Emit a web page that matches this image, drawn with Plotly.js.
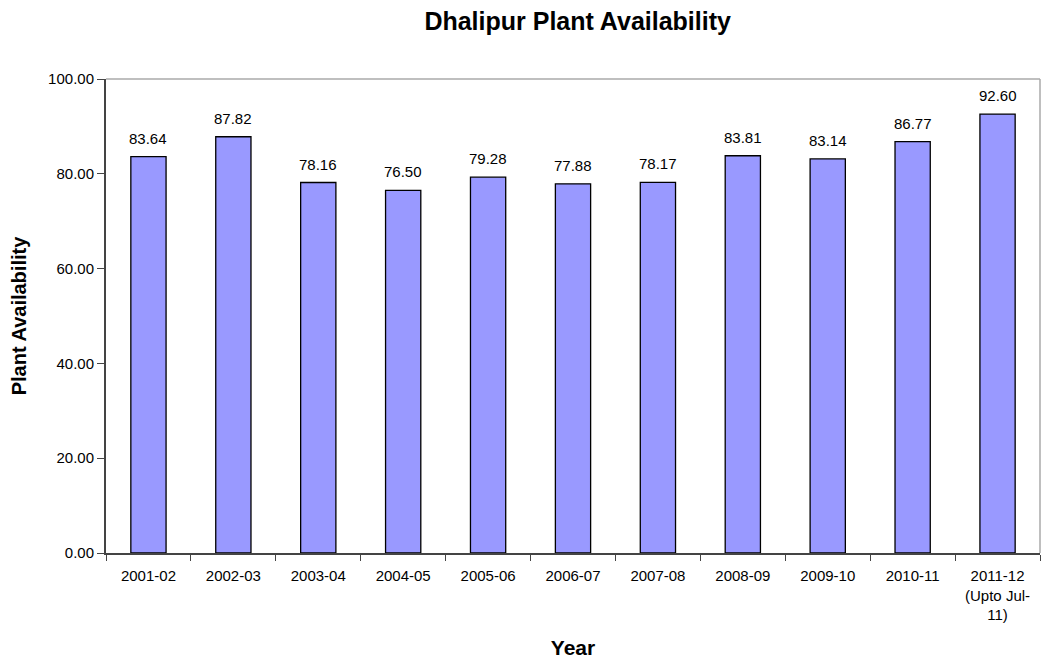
<!DOCTYPE html>
<html>
<head>
<meta charset="utf-8">
<script src="https://cdn.plot.ly/plotly-3.0.1.min.js"></script>
<style>html,body{margin:0;padding:0;background:#fff;}#chart{width:1058px;height:659px;}</style>
</head>
<body>
<div id="chart"></div>
<script>
const categories = ["2001-02","2002-03","2003-04","2004-05","2005-06","2006-07","2007-08","2008-09","2009-10","2010-11","2011-12<br>(Upto Jul-<br>11)"];
const availability = [83.64,87.82,78.16,76.50,79.28,77.88,78.17,83.81,83.14,86.77,92.60];
const yTicks = [0,20,40,60,80,100];

const FONT = "Arial, Liberation Sans, sans-serif";

const trace = {
  type: "bar",
  x: categories,
  y: availability,
  marker: {color: "#9999FF", line: {color: "#000000", width: 1.3}},
  hoverinfo: "x+y"
};

const labelAnnotations = categories.map((c, i) => ({
  x: c, y: availability[i], xref: "x", yref: "y",
  text: availability[i].toFixed(2),
  showarrow: false, yanchor: "bottom", yshift: 8,
  font: {family: FONT, size: 15, color: "#000"}
}));

const layout = {
  width: 1058, height: 659,
  margin: {l: 106, r: 18, t: 79, b: 106},
  paper_bgcolor: "#fff", plot_bgcolor: "#fff",
  font: {family: FONT, size: 15, color: "#000"},
  title: {text: "<b>Dhalipur Plant Availability</b>", font: {size: 25}, x: 0.505, xanchor: "center", y: 0.968, yanchor: "middle", xref: "paper"},
  bargap: 0.585,
  showlegend: false,
  xaxis: {
    type: "category",
    tickson: "boundaries",
    ticks: "outside", ticklen: 6, tickcolor: "#444",
    ticklabelstandoff: 8,
    showline: true, linecolor: "#444", linewidth: 2,
    showgrid: false, zeroline: false,
    tickfont: {size: 15},
    title: {text: "<b>Year</b>", font: {size: 21}, standoff: 22}
  },
  yaxis: {
    range: [0, 100],
    tickvals: yTicks,
    ticktext: yTicks.map(v => v.toFixed(2)),
    ticks: "outside", ticklen: 7, tickcolor: "#444",
    showline: true, linecolor: "#444", linewidth: 2,
    showgrid: false, zeroline: false,
    tickfont: {size: 15},
    title: {text: "<b>Plant Availability</b>", font: {size: 20}, standoff: 16}
  },
  annotations: labelAnnotations,
  shapes: [
    {type: "line", xref: "paper", yref: "paper", x0: 0, x1: 1, y0: 1, y1: 1, line: {color: "#aaa", width: 1.5}},
    {type: "line", xref: "paper", yref: "paper", x0: 1, x1: 1, y0: 0, y1: 1, line: {color: "#aaa", width: 1.5}}
  ]
};

Plotly.newPlot("chart", [trace], layout, {displayModeBar: false, staticPlot: true});
</script>
</body>
</html>
